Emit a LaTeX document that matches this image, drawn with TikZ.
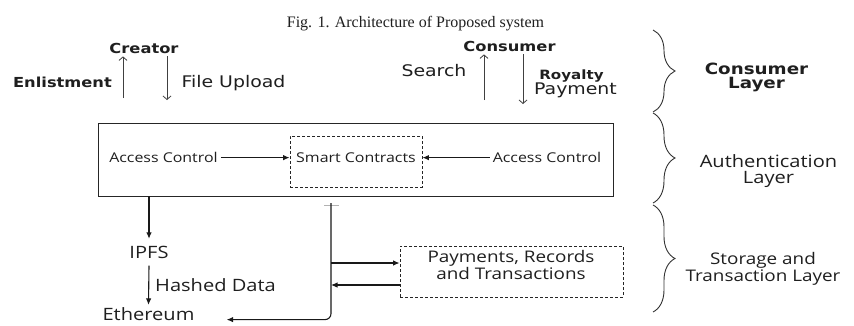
\documentclass[tikz,border=0pt]{standalone}
\usepackage{fontspec}
\setmainfont{Liberation Serif}
\newfontfamily\vsans[FakeStretch=1.18]{DejaVu Sans}
\newfontfamily\osans[FakeStretch=1.18]{Open Sans}
\usetikzlibrary{arrows.meta,decorations.pathreplacing}

\tikzset{
  txt/.style={anchor=base, inner sep=0pt, text=black!88},
  vreg/.style={txt, font=\vsans\fontsize{16}{19}\selectfont},
  vbold/.style={txt, font=\vsans\bfseries\fontsize{13.8}{16}\selectfont},
  oreg/.style={txt, font=\osans\fontsize{#1}{#1}\selectfont},
  arr/.style={line width=1.1pt, draw=black!90, -{Latex[length=6.5pt,width=5.5pt]}},
  toparr/.style={line width=0.8pt, draw=black!75, -{Straight Barb[length=3.5pt,width=8pt]}},
  dbox/.style={draw=black!85, line width=0.9pt, densely dashed, inner sep=0pt},
  layerbrace/.style={decorate, decoration={brace, amplitude=22pt}, line width=0.9pt, draw=black!80},
}

\begin{document}
\begin{tikzpicture}[x=1pt,y=-1pt]
\useasboundingbox (0,0) rectangle (854,325);
\fill[white] (0,0) rectangle (854,325);

% caption
\node[txt, font=\fontsize{16}{18}\selectfont] (caption) at (415.5,27.5) {Fig. 1. Architecture of Proposed system};

% ---- consumer layer ----
\node[vbold, inner sep=3pt] (creator) at (144,53) {Creator};
\node[vbold] (enlist) at (62.5,87) {Enlistment};
\node[vreg] (upload) at (233.5,87) {File Upload};
\coordinate (enlistfoot) at (123,98);
\coordinate (uploadfoot) at (167,100);
\draw[toparr] (enlistfoot) -- (enlistfoot |- creator.south);
\draw[toparr] (uploadfoot |- creator.south) -- (uploadfoot);

\node[vbold, inner sep=3pt] (consumer) at (509.5,51) {Consumer};
\node[vreg] (search) at (434,76.5) {Search};
\node[txt, font=\vsans\bfseries\fontsize{12.8}{15}\selectfont] (royalty) at (571.5,79) {Royalty};
\node[vreg] (payment) at (575.5,94) {Payment};
\coordinate (searchfoot) at (484,100);
\coordinate (payfoot) at (523,104);
\draw[toparr] (searchfoot) -- (searchfoot |- consumer.south);
\draw[toparr] (payfoot |- consumer.south) -- (payfoot);

% ---- authentication layer ----
\node[draw=black!85, line width=0.9pt, minimum width=515pt, minimum height=73pt, inner sep=0pt] (auth) at (355.5,159.5) {};
\node[dbox, minimum width=132pt, minimum height=51pt, text height=9.6pt, text depth=7pt,
      font=\osans\fontsize{13.5}{14}\selectfont, text=black!88] (sc) at (356,161.5) {Smart Contracts};
\node[oreg=13.5, inner sep=3pt] (acleft) at (163.5,162.7) {Access Control};
\node[oreg=13.5, inner sep=3pt] (acright) at (547,162.7) {Access Control};
\draw[arr] (acleft.east) -- (acleft.east -| sc.west);
\draw[arr] (acright.west) -- (acright.west -| sc.east);

% ---- storage and transaction layer ----
\node[oreg=17, inner xsep=2pt, inner ysep=7pt] (ipfs) at (149,258.3) {IPFS};
\node[txt, anchor=base west, font=\osans\fontsize{17}{17}\selectfont] (hashed) at (155,291.7) {Hashed Data};
\node[oreg=17, inner xsep=32pt, inner ysep=2pt] (eth) at (148.5,320) {Ethereum};
\draw[arr] (auth.south -| ipfs) -- (ipfs.north);
\draw[arr] (ipfs.south) -- (eth.north);

\node[dbox, minimum width=223pt, minimum height=51pt] (pay) at (511.5,271.5) {};
\node[txt, align=center, font=\osans\fontsize{16}{15.5}\selectfont] (paytext) at (511,279) {Payments, Records\\and Transactions};

\coordinate (tap) at (331,203);
\coordinate (ethin) at ([yshift=-6pt]eth.east);
\draw[black!30, line width=0.6pt] (324,205) -- (339,205);
\draw[arr, rounded corners=6pt] (tap) |- (ethin);
\coordinate (payout) at ([yshift=8.5pt]pay.west);
\coordinate (payback) at ([yshift=-13.5pt]pay.west);
\draw[arr] (payout -| tap) -- (payout);
\draw[arr] (payback) -- (payback -| tap);

% ---- layer braces and names ----
\draw[layerbrace] (653,30) -- (653,112);
\draw[layerbrace] (653,113) -- (653,203);
\draw[layerbrace] (653,205) -- (653,312);

\node[txt, align=center, font=\vsans\bfseries\fontsize{15.5}{14}\selectfont] (layercons) at (756.5,88) {Consumer\\Layer};
\node[txt, align=center, font=\osans\fontsize{17}{16}\selectfont] (layerauth) at (768.5,183) {Authentication\\Layer};
\node[txt, align=center, font=\osans\fontsize{16}{14.5}\selectfont] (layerstore) at (763,281) {Storage and\\Transaction Layer};
\end{tikzpicture}
\end{document}
